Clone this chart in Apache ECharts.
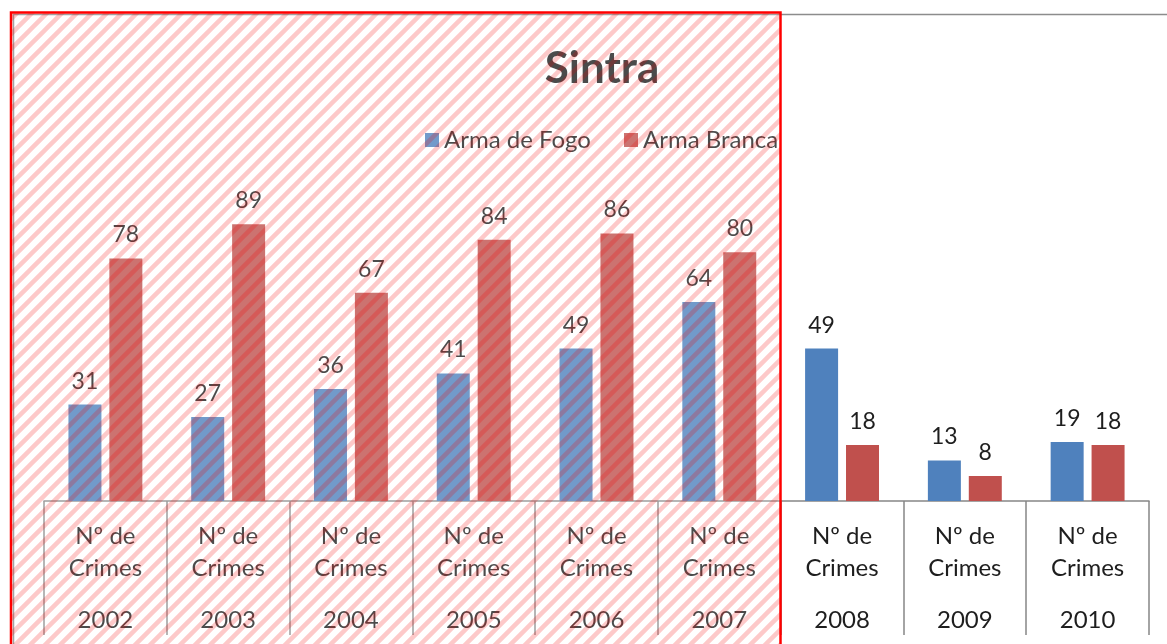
<!DOCTYPE html>
<html>
<head>
<meta charset="utf-8">
<style>
  html, body { margin: 0; padding: 0; background: #fff; }
  #chart { width: 1167px; height: 644px; }
</style>
<script src="https://cdn.jsdelivr.net/npm/echarts@6/dist/echarts.min.js"></script>
</head>
<body>
<div id="chart"></div>
<script>
// dados
var anos = ['2002', '2003', '2004', '2005', '2006', '2007', '2008', '2009', '2010']
var armaFogo = [31, 27, 36, 41, 49, 64, 49, 13, 19]
var armaBranca = [78, 89, 67, 84, 86, 80, 18, 8, 18]

var FONT = 'Lato, "Open Sans", sans-serif'

// padrão de riscas diagonais para a caixa vermelha
function makeStripes() {
  var c = document.createElement('canvas')
  c.width = 15
  c.height = 15
  var ctx = c.getContext('2d')
  ctx.fillStyle = 'rgba(255,255,255,0.2)'
  ctx.fillRect(0, 0, 15, 15)
  ctx.strokeStyle = 'rgba(245,0,0,0.21)'
  ctx.lineWidth = 4.5
  ctx.beginPath()
  ctx.moveTo(-2, 17); ctx.lineTo(17, -2)
  ctx.moveTo(-2, 2); ctx.lineTo(2, -2)
  ctx.moveTo(13, 17); ctx.lineTo(17, 13)
  ctx.stroke()
  return c
}

var chart = echarts.init(document.getElementById('chart'))

chart.setOption({
  animation: false,
  title: {
    text: 'Sintra',
    left: 597,
    top: 42,
    textAlign: 'center',
    textStyle: { fontFamily: FONT, fontSize: 44, fontWeight: 'bold', color: '#1e1e1e' }
  },
  legend: {
    left: 420,
    top: 123,
    icon: 'rect',
    itemWidth: 14,
    itemHeight: 14,
    itemGap: 33,
    textStyle: { fontFamily: FONT, fontSize: 24, color: '#1e1e1e', padding: [0, 0, 0, 0] },
    data: ['Arma de Fogo', 'Arma Branca']
  },
  grid: { left: 44, right: 18, top: 190, bottom: 143 },
  xAxis: {
    type: 'category',
    data: anos,
    axisLine: { lineStyle: { color: '#868686', width: 1.5 } },
    axisTick: { show: true, length: 134, lineStyle: { color: '#868686', width: 1.5 } },
    axisLabel: {
      margin: 19,
      formatter: function (v) {
        return '{a|Nº de}\n{a|Crimes}\n{b|' + v + '}'
      },
      rich: {
        a: { fontFamily: FONT, fontSize: 24, lineHeight: 32, color: '#1e1e1e', align: 'center' },
        b: { fontFamily: FONT, fontSize: 24, lineHeight: 72, color: '#1e1e1e', align: 'center' }
      }
    }
  },
  yAxis: {
    type: 'value',
    min: 0,
    max: 100,
    show: false,
    splitLine: { show: false }
  },
  series: [
    {
      name: 'Arma de Fogo',
      type: 'bar',
      data: armaFogo,
      barWidth: 33,
      barGap: '24%',
      itemStyle: { color: '#4F81BD' },
      label: { show: true, position: 'top', distance: 12, fontFamily: FONT, fontSize: 23, color: '#1e1e1e' }
    },
    {
      name: 'Arma Branca',
      type: 'bar',
      data: armaBranca,
      barWidth: 33,
      barGap: '24%',
      itemStyle: { color: '#C0504D' },
      label: { show: true, position: 'top', distance: 12, fontFamily: FONT, fontSize: 23, color: '#1e1e1e' }
    }
  ],
  graphic: [
    // moldura cinzenta da área do gráfico
    {
      type: 'polyline',
      z: 50,
      shape: { points: [[13.5, 660], [13.5, 14.5], [1180, 14.5]] },
      style: { stroke: '#8c8c8c', lineWidth: 1.5, fill: null }
    },
    // caixa vermelha com riscas
    {
      type: 'rect',
      z: 100,
      shape: { x: 11, y: 12.5, width: 769.5, height: 660 },
      style: {
        fill: { image: makeStripes(), repeat: 'repeat' },
        stroke: '#ff0000',
        lineWidth: 2.5
      }
    }
  ]
})
</script>
</body>
</html>
